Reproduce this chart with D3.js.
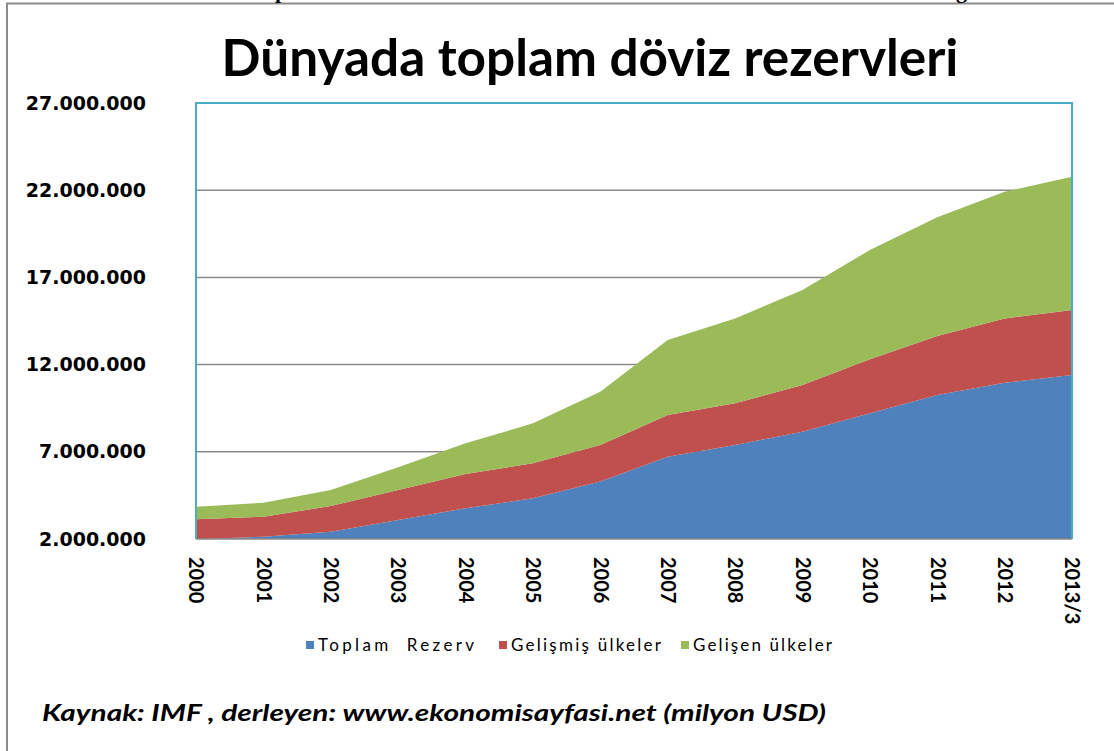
<!DOCTYPE html>
<html><head><meta charset="utf-8">
<script src="https://cdn.jsdelivr.net/npm/d3@7"></script>
<style>body{margin:0;background:#fff} svg{display:block}</style>
</head><body><svg id="c" width="1114" height="751"></svg>
<script>
// ---- data (milyon USD) ----
const categories = ["2000","2001","2002","2003","2004","2005","2006","2007","2008","2009","2010","2011","2012","2013/3"];
const toplamRezerv    = [1980000, 2130000, 2420000, 3090000, 3760000, 4330000, 5290000, 6720000, 7390000, 8150000, 9210000, 10260000, 10960000, 11400000];
const gelismisUlkeler = [1150000, 1150000, 1470000, 1720000, 1970000, 2010000, 2100000, 2390000, 2390000, 2680000, 3090000, 3380000, 3690000, 3730000];
const gelisenUlkeler  = [720000, 800000, 920000, 1300000, 1760000, 2290000, 3060000, 4300000, 4870000, 5450000, 6270000, 6810000, 7260000, 7640000];
const yTicks = [2000000, 7000000, 12000000, 17000000, 22000000, 27000000];
const seriesNames = ["Toplam  Rezerv", "Gelişmiş ülkeler", "Gelişen ülkeler"];
const seriesColors = ["#4F81BD", "#C0504D", "#9BBB59"];
const titleText = "Dünyada toplam döviz rezervleri";
const sourceText = "Kaynak: IMF , derleyen: www.ekonomisayfasi.net (milyon USD)";

const svg = d3.select("#c");
const L = 196, R = 1072, T = 103, B = 539;

// page frame
svg.append("path").attr("d", "M7,751 V3.5 H1114").attr("fill", "none").attr("stroke", "#8c8c8c").attr("stroke-width", 2);
// cut-off descenders of the text line above the chart
svg.append("text").attr("x", 275).attr("y", -2).attr("font-family", "Liberation Serif").attr("font-weight", "bold").attr("font-size", 22).text("p");
svg.append("text").attr("x", 956).attr("y", -2).attr("font-family", "Liberation Serif").attr("font-weight", "bold").attr("font-size", 22).text("g");

// title
const title = svg.append("text").attr("x", 590).attr("y", 76).attr("text-anchor", "middle")
  .attr("font-family", "Lato").attr("font-weight", "bold").attr("font-size", 40).attr("fill", "#000").text(titleText);
{ const w = title.node().getComputedTextLength(); title.attr("font-size", 40 * 737 / w); }

const x = d3.scalePoint().domain(categories).range([L, R]);
const y = d3.scaleLinear().domain([yTicks[0], yTicks[yTicks.length - 1]]).range([B, T]);

const rows = categories.map((c, i) => ({ cat: c, a: toplamRezerv[i], b: gelismisUlkeler[i], c2: gelisenUlkeler[i] }));
const keys = ["a", "b", "c2"];
const stacked = d3.stack().keys(keys)(rows);

svg.append("clipPath").attr("id", "pc").append("rect").attr("x", L).attr("y", T).attr("width", R - L).attr("height", B - T);

// gridlines
svg.append("g").selectAll("line").data(yTicks.slice(1, -1)).join("line")
  .attr("x1", L).attr("x2", R).attr("y1", d => y(d)).attr("y2", d => y(d))
  .attr("stroke", "#8a8a8a").attr("stroke-width", 1.5);

const area = d3.area().x(d => x(d.data.cat)).y0(d => y(d[0])).y1(d => y(d[1]));
svg.append("g").attr("clip-path", "url(#pc)").selectAll("path").data(stacked).join("path")
  .attr("d", area).attr("fill", (d, i) => seriesColors[i]);

// plot border
svg.append("path").attr("d", `M${L},${B} V${T} H${R} V${B}`).attr("fill", "none").attr("stroke", "#4BACC6").attr("stroke-width", 2);
svg.append("line").attr("x1", L).attr("x2", R).attr("y1", B).attr("y2", B).attr("stroke", "#8a8a8a").attr("stroke-width", 1.5);

// y axis
const yAxis = svg.append("g").attr("transform", `translate(${L},0)`)
  .call(d3.axisLeft(y).tickValues(yTicks).tickSize(0).tickPadding(50)
    .tickFormat(d => d3.format(",")(d).replace(/,/g, ".")));
yAxis.select(".domain").remove();
yAxis.selectAll("text").attr("font-family", "DejaVu Sans").attr("font-weight", "bold").attr("font-size", 19).attr("fill", "#000");

// x axis
const xAxis = svg.append("g").attr("transform", `translate(0,${B})`)
  .call(d3.axisBottom(x).tickSize(0));
xAxis.select(".domain").remove();
xAxis.selectAll("text").attr("font-family", "Lato").attr("font-weight", "bold").attr("font-size", 20).attr("fill", "#000")
  .attr("transform", "rotate(90)").attr("x", 18).attr("y", 0).attr("dy", "0.36em").attr("text-anchor", "start");

// legend
const legendX = [306, 499, 681];
const legendW = [156, 150, 139];
const lg = svg.append("g").selectAll("g").data(seriesNames).join("g")
  .attr("transform", (d, i) => `translate(${legendX[i]},645)`);
lg.append("rect").attr("x", 0).attr("y", -4).attr("width", 8).attr("height", 8).attr("fill", (d, i) => seriesColors[i]);
lg.append("text").attr("x", 12).attr("y", 0).attr("dy", "0.36em").attr("font-family", "Lato").attr("font-size", 17)
  .attr("fill", "#000").attr("xml:space", "preserve").style("white-space", "pre")
  .attr("textLength", (d, i) => legendW[i]).attr("lengthAdjust", "spacing").text(d => d);

// source
svg.append("text").attr("x", 42).attr("y", 721).attr("font-family", "Lato").attr("font-weight", "bold").attr("font-style", "italic")
  .attr("font-size", 23).attr("fill", "#000").attr("textLength", 784).attr("lengthAdjust", "spacingAndGlyphs").text(sourceText);
</script></body></html>
